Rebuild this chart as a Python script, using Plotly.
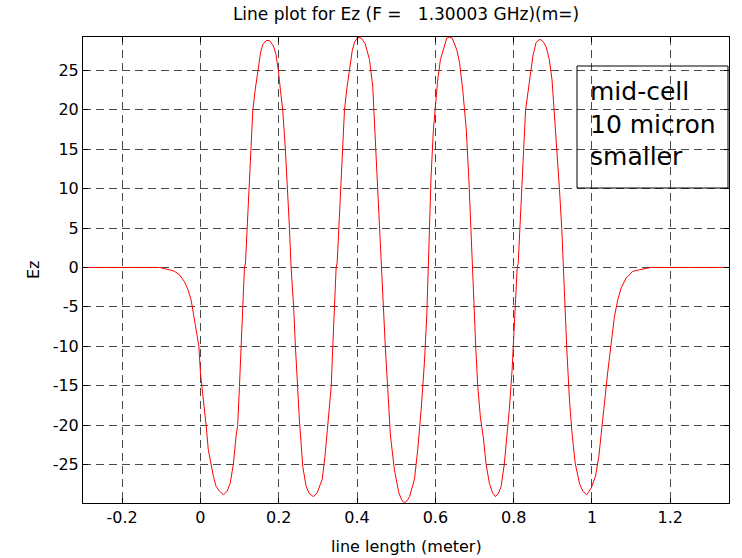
import plotly.graph_objects as go

# ---- data ----
x_m = [-0.300, -0.200, -0.105, -0.079, -0.066, -0.054, -0.041, -0.032, -0.024, -0.021,
       -0.011, -0.004, 0.000, 0.004, 0.010, 0.0145, 0.020, 0.027, 0.033, 0.040,
       0.0485, 0.059, 0.068, 0.076, 0.084, 0.091, 0.095, 0.0996, 0.104, 0.108,
       0.1124, 0.115, 0.119, 0.1235, 0.1277, 0.1337, 0.1397, 0.1465, 0.1533, 0.1592,
       0.1677, 0.1762, 0.1864, 0.193, 0.199, 0.2043, 0.2102, 0.217, 0.223, 0.2273,
       0.2315, 0.238, 0.2425, 0.247, 0.2529, 0.2614, 0.270, 0.278, 0.2886, 0.298,
       0.305, 0.311, 0.318, 0.325, 0.334, 0.338, 0.342, 0.3466, 0.3492, 0.3532,
       0.3576, 0.3619, 0.3679, 0.3739, 0.3806, 0.3876, 0.3936, 0.4016, 0.4106, 0.4206,
       0.4272, 0.4317, 0.440, 0.444, 0.450, 0.457, 0.4625, 0.4657, 0.4725, 0.4785,
       0.4853, 0.4955, 0.5066, 0.514, 0.521, 0.528, 0.534, 0.5466, 0.555, 0.5637,
       0.572, 0.578, 0.582, 0.585, 0.589, 0.595, 0.6023, 0.606, 0.613, 0.623,
       0.629, 0.636, 0.643, 0.655, 0.662, 0.670, 0.679, 0.6856, 0.6915, 0.695,
       0.699, 0.703, 0.708, 0.715, 0.723, 0.7297, 0.738, 0.746, 0.7535, 0.761,
       0.768, 0.776, 0.782, 0.789, 0.796, 0.801, 0.805, 0.809, 0.8116, 0.8156,
       0.820, 0.8243, 0.8303, 0.840, 0.849, 0.857, 0.864, 0.870, 0.876, 0.883,
       0.891, 0.898, 0.904, 0.910, 0.917, 0.923, 0.927, 0.9298, 0.9357, 0.9425,
       0.949, 0.957, 0.968, 0.9766, 0.9867, 0.998, 1.009, 1.0175, 1.0235, 1.032,
       1.040, 1.0465, 1.0516, 1.0575, 1.066, 1.0746, 1.0873, 1.104, 1.121, 1.151,
       1.250, 1.350]
ez = [0.0, 0.0, 0.0, -0.3, -0.5, -0.9, -1.8, -2.8, -4.1, -4.95,
      -8.3, -10.0, -13.4, -15.1, -17.6, -20.05, -23.1, -25.0, -26.5, -27.8,
      -28.4, -28.85, -28.4, -27.4, -25.0, -21.4, -20.05, -15.1, -10.0, -4.95,
      0.0, 0.55, 5.0, 9.95, 14.9, 19.9, 22.5, 25.0, 27.2, 28.3,
      28.8, 28.8, 28.1, 27.0, 25.0, 22.5, 19.9, 14.9, 9.95, 5.0,
      0.0, -5.0, -10.0, -14.9, -19.5, -25.3, -27.8, -28.7, -29.1, -28.6,
      -27.8, -26.9, -24.0, -20.2, -15.1, -10.0, -4.95, 0.0, 0.6, 5.0,
      10.0, 15.0, 20.0, 22.7, 25.3, 27.5, 28.6, 29.2, 29.1, 28.4,
      27.2, 26.4, 23.0, 18.7, 12.4, 4.8, 0.0, -4.1, -10.4, -15.5,
      -21.4, -25.7, -28.6, -29.5, -29.9, -29.6, -29.1, -26.9, -23.1, -18.1,
      -12.1, -6.2, 0.0, 4.8, 11.5, 17.5, 21.7, 23.8, 26.4, 28.0,
      29.1, 29.24, 29.1, 27.6, 25.9, 22.5, 17.5, 11.1, 4.8, 0.0,
      -5.0, -10.0, -14.9, -19.0, -21.8, -25.0, -27.4, -28.6, -29.1, -28.7,
      -27.8, -25.0, -21.8, -18.0, -13.0, -8.0, -4.0, 0.0, 0.5, 5.0,
      10.0, 15.0, 19.9, 23.5, 26.8, 28.5, 28.9, 28.9, 28.6, 28.0,
      26.4, 23.8, 19.6, 14.9, 9.9, 4.8, 0.0, -4.1, -10.4, -16.8,
      -21.0, -24.8, -27.4, -28.4, -28.85, -28.0, -26.5, -24.0, -21.4, -17.2,
      -13.4, -10.4, -8.3, -6.2, -4.1, -2.6, -1.35, -0.5, -0.3, 0.0,
      0.0, 0.0]

x_ticks = [-0.2, 0, 0.2, 0.4, 0.6, 0.8, 1.0, 1.2]
x_tick_labels = ["-0.2", "0", "0.2", "0.4", "0.6", "0.8", "1", "1.2"]
y_ticks = [-25, -20, -15, -10, -5, 0, 5, 10, 15, 20, 25]
y_tick_labels = ["-25", "-20", "-15", "-10", "-5", "0", "5", "10", "15", "20", "25"]

title_text = "Line plot for Ez (F =\u00a0\u00a0 1.30003 GHz)(m=)"
x_label = "line length (meter)"
y_label = "Ez"
note_lines = ["mid-cell", "10 micron", "smaller"]

FONT = "DejaVu Sans"

fig = go.Figure()
fig.add_trace(go.Scatter(x=x_m, y=ez, mode="lines",
                         line=dict(color="#ff0000", width=1),
                         showlegend=False, hoverinfo="skip"))

W, H = 742, 558
L, R, T, B = 83, 13, 37, 55
ph = H - T - B
pw = W - L - R

axis_common = dict(showline=True, linecolor="black", linewidth=1, mirror="ticks",
                   ticks="inside", ticklen=5, tickcolor="black",
                   showgrid=True, gridcolor="#4a4a4a", gridwidth=1, griddash="8px,5px",
                   zeroline=False, tickfont=dict(family=FONT, size=16, color="black"))

fig.update_layout(
    width=W, height=H,
    margin=dict(l=L, r=R, t=T, b=B, pad=0),
    paper_bgcolor="white", plot_bgcolor="white",
    font=dict(family=FONT, color="black"),
    title=dict(text=title_text, x=(L + pw / 2) / W, xanchor="center",
               y=1 - 14 / H, yanchor="middle", yref="container",
               font=dict(family=FONT, size=17, color="black")),
    xaxis=dict(range=[-0.3, 1.35], tickmode="array", tickvals=x_ticks,
               ticktext=x_tick_labels, **axis_common),
    yaxis=dict(range=[-29.9, 29.25], tickmode="array", tickvals=y_ticks,
               ticktext=y_tick_labels, **axis_common),
)

# axis labels
fig.add_annotation(text=x_label, xref="paper", yref="paper", x=0.5,
                   y=-(546 - (H - B)) / ph, xanchor="center", yanchor="middle",
                   showarrow=False, font=dict(family=FONT, size=16, color="black"))
fig.add_annotation(text=y_label, xref="paper", yref="paper", x=-(L - 33) / pw,
                   y=0.5, xanchor="center", yanchor="middle", textangle=-90,
                   showarrow=False, font=dict(family=FONT, size=16, color="black"))

# note box
fig.add_shape(type="rect", xref="paper", yref="paper",
              x0=(577 - L) / pw, x1=(728 - L) / pw,
              y0=(H - B - 188) / ph, y1=(H - B - 66) / ph,
              line=dict(color="black", width=1), fillcolor="rgba(0,0,0,0)")
fig.add_annotation(text="<br>".join(note_lines), xref="paper", yref="paper",
                   x=(588 - L) / pw, y=(H - B - 75) / ph, xanchor="left", yanchor="top",
                   align="left", showarrow=False,
                   font=dict(family=FONT, size=25, color="black"))

fig.write_html("out.html")
